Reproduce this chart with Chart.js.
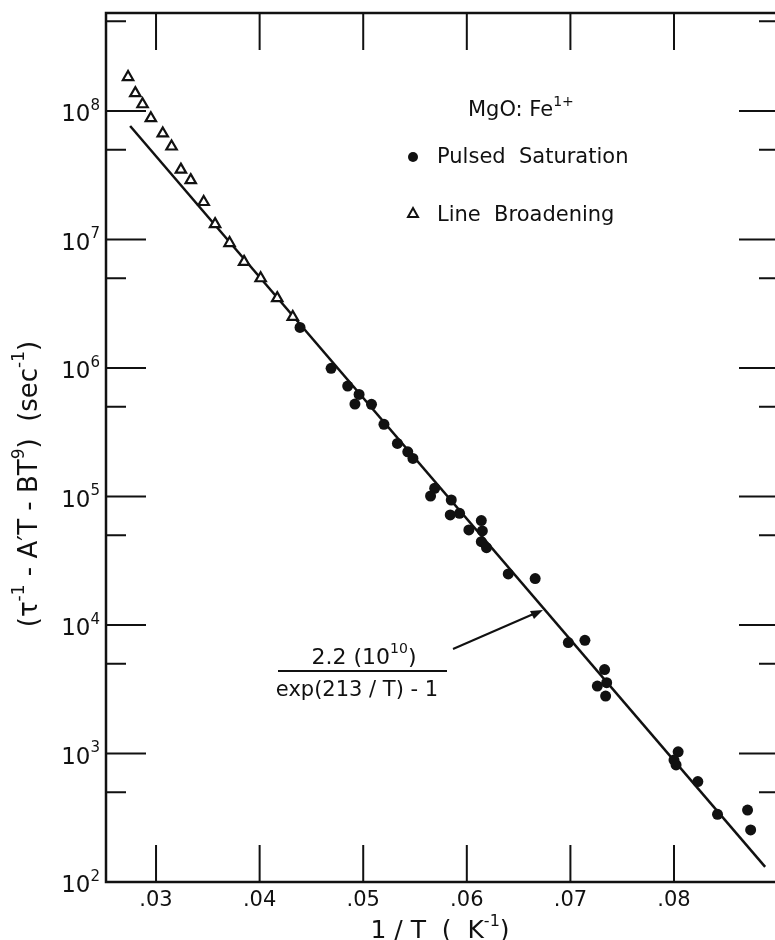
<!DOCTYPE html>
<html>
<head>
<meta charset="utf-8">
<script src="https://cdn.jsdelivr.net/npm/chart.js@4.4.1/dist/chart.umd.min.js"></script>
<style>
  body { margin: 0; background: #fff; }
  canvas { display: block; }
</style>
</head>
<body>
<canvas id="chart" width="775" height="940"></canvas>
<script>
// pulsed saturation points (1/T, rate)
const psX = [0.0439, 0.0469, 0.0485, 0.0496, 0.0492, 0.0508, 0.0520, 0.0533, 0.0543, 0.0548,
  0.0569, 0.0565, 0.0585, 0.0593, 0.0584, 0.0614, 0.0615, 0.0602, 0.0614, 0.0619,
  0.0640, 0.0666, 0.0698, 0.0714, 0.0733, 0.0735, 0.0726, 0.0734, 0.0804, 0.0800,
  0.0802, 0.0823, 0.0842, 0.0871, 0.0874];
const psY = [2.07e6, 9.95e5, 7.24e5, 6.24e5, 5.25e5, 5.22e5, 3.65e5, 2.59e5, 2.23e5, 1.98e5,
  1.16e5, 1.01e5, 9.4e4, 7.4e4, 7.2e4, 6.5e4, 5.4e4, 5.5e4, 4.45e4, 4.0e4,
  2.5e4, 2.3e4, 7.3e3, 7.6e3, 4.5e3, 3.56e3, 3.35e3, 2.8e3, 1030, 890,
  815, 605, 336, 363, 254];

// line broadening points
const lbX = [0.0273, 0.0280, 0.0287, 0.0295, 0.03065, 0.0315, 0.0324, 0.03335, 0.0346, 0.0357,
  0.0371, 0.0385, 0.0401, 0.0417, 0.0432];
const lbY = [1.84e8, 1.38e8, 1.13e8, 8.8e7, 6.7e7, 5.3e7, 3.5e7, 2.9e7, 1.96e7, 1.32e7,
  9.4e6, 6.7e6, 5.0e6, 3.5e6, 2.5e6];

// fitted curve end points
const fitX = [0.0275, 0.0888];
const fitY = [7.65e7, 131];

// ticks
const xTicks = [0.03, 0.04, 0.05, 0.06, 0.07, 0.08];
const xTickLabels = [".03", ".04", ".05", ".06", ".07", ".08"];
const yMajor = [1e2, 1e3, 1e4, 1e5, 1e6, 1e7, 1e8];
const yExponents = ["2", "3", "4", "5", "6", "7", "8"];
const yMinor = [5e2, 5e3, 5e4, 5e5, 5e6, 5e7, 5e8];

const FONT = '"DejaVu Sans", sans-serif';

const toPts = (xs, ys) => xs.map((x, i) => ({ x: x, y: ys[i] }));

// text with superscripts: parts = [[text, sup], ...]
const richWidth = (ctx, parts, size) => {
  let w = 0;
  parts.forEach(([t, sup]) => {
    ctx.font = (sup ? Math.round(size * 0.65) : size) + "px " + FONT;
    w += ctx.measureText(t).width;
  });
  return w;
};
const drawRich = (ctx, parts, x, y, size, align) => {
  const w = richWidth(ctx, parts, size);
  let cx = align === "center" ? x - w / 2 : align === "right" ? x - w : x;
  ctx.textAlign = "left";
  ctx.textBaseline = "alphabetic";
  parts.forEach(([t, sup]) => {
    ctx.font = (sup ? Math.round(size * 0.65) : size) + "px " + FONT;
    ctx.fillText(t, cx, sup ? y - size * 0.5 : y);
    cx += ctx.measureText(t).width;
  });
};

const decorations = {
  id: "decorations",
  afterDraw(chart) {
    const ctx = chart.ctx;
    const a = chart.chartArea;
    const xs = chart.scales.x;
    const ys = chart.scales.y;
    ctx.save();
    ctx.strokeStyle = "#111";
    ctx.fillStyle = "#111";

    // frame (right side is cut off by the picture)
    ctx.lineWidth = 2.5;
    ctx.beginPath();
    ctx.moveTo(a.right + 2, a.top);
    ctx.lineTo(a.left, a.top);
    ctx.lineTo(a.left, a.bottom);
    ctx.lineTo(a.right + 2, a.bottom);
    ctx.stroke();

    // inward ticks
    ctx.lineWidth = 2;
    ctx.beginPath();
    xTicks.forEach(v => {
      const px = xs.getPixelForValue(v);
      ctx.moveTo(px, a.bottom);
      ctx.lineTo(px, a.bottom - 37);
      ctx.moveTo(px, a.top);
      ctx.lineTo(px, a.top + 37);
    });
    yMajor.forEach(v => {
      const py = ys.getPixelForValue(v);
      ctx.moveTo(a.left, py);
      ctx.lineTo(a.left + 40, py);
      ctx.moveTo(a.right, py);
      ctx.lineTo(a.right - 36, py);
    });
    yMinor.forEach(v => {
      const py = ys.getPixelForValue(v);
      ctx.moveTo(a.left, py);
      ctx.lineTo(a.left + 20, py);
      ctx.moveTo(a.right, py);
      ctx.lineTo(a.right - 16, py);
    });
    ctx.stroke();

    // x tick labels
    ctx.font = "21px " + FONT;
    ctx.textAlign = "center";
    ctx.textBaseline = "middle";
    xTicks.forEach((v, i) => {
      ctx.fillText(xTickLabels[i], xs.getPixelForValue(v), a.bottom + 19);
    });

    // y tick labels
    yMajor.forEach((v, i) => {
      const py = ys.getPixelForValue(v);
      drawRich(ctx, [["10", false], [yExponents[i], true]], 100, py + 10, 23, "right");
    });

    // axis titles
    drawRich(ctx, [["1 / T  (  K", false], ["-1", true], [")", false]], 440, 938, 25, "center");
    ctx.save();
    ctx.translate(37, 484);
    ctx.rotate(-Math.PI / 2);
    drawRich(ctx, [["(τ", false], ["-1", true], [" - A′T - BT", false], ["9", true],
      [")  (sec", false], ["-1", true], [")", false]], 0, 0, 26, "center");
    ctx.restore();

    // legend text
    drawRich(ctx, [["MgO: Fe", false], ["1+", true]], 468, 116, 21, "left");
    ctx.font = "21px " + FONT;
    ctx.textAlign = "left";
    ctx.textBaseline = "alphabetic";
    ctx.fillText("Pulsed  Saturation", 437, 163);
    ctx.fillText("Line  Broadening", 437, 221);
    ctx.beginPath();
    ctx.arc(413, 157, 5, 0, Math.PI * 2);
    ctx.fill();
    ctx.lineWidth = 2;
    ctx.beginPath();
    ctx.moveTo(413, 208);
    ctx.lineTo(418, 217);
    ctx.lineTo(408, 217);
    ctx.closePath();
    ctx.stroke();

    // formula label with arrow
    drawRich(ctx, [["2.2 (10", false], ["10", true], [")", false]], 364, 664, 22, "center");
    ctx.lineWidth = 2;
    ctx.beginPath();
    ctx.moveTo(278, 671);
    ctx.lineTo(447, 671);
    ctx.stroke();
    ctx.font = "21px " + FONT;
    ctx.textAlign = "center";
    ctx.fillText("exp(213 / T) - 1", 357, 696);
    ctx.beginPath();
    ctx.moveTo(453, 649);
    ctx.lineTo(538, 612);
    ctx.stroke();
    ctx.beginPath();
    ctx.moveTo(543, 610);
    ctx.lineTo(530, 611);
    ctx.lineTo(534, 619);
    ctx.closePath();
    ctx.fill();

    ctx.restore();
  }
};

new Chart(document.getElementById("chart").getContext("2d"), {
  type: "scatter",
  data: {
    datasets: [
      {
        label: "Pulsed Saturation",
        data: toPts(psX, psY),
        pointStyle: "circle",
        pointRadius: 5.5,
        backgroundColor: "#111",
        borderColor: "#111",
        borderWidth: 0,
      },
      {
        label: "Line Broadening",
        data: toPts(lbX, lbY),
        pointStyle: "triangle",
        pointRadius: 6,
        backgroundColor: "#fff",
        borderColor: "#111",
        borderWidth: 2.2,
      },
      {
        label: "fit",
        type: "line",
        data: toPts(fitX, fitY),
        showLine: true,
        borderColor: "#111",
        borderWidth: 2.5,
        pointRadius: 0,
        fill: false,
      },
    ],
  },
  options: {
    responsive: false,
    animation: false,
    devicePixelRatio: 1,
    layout: {
      autoPadding: false,
      padding: { left: 106, top: 13, right: 0, bottom: 58 },
    },
    plugins: {
      legend: { display: false },
      tooltip: { enabled: false },
    },
    scales: {
      x: {
        type: "linear",
        min: 0.02517,
        max: 0.08975,
        display: false,
      },
      y: {
        type: "logarithmic",
        min: 100,
        max: 5.8e8,
        display: false,
      },
    },
  },
  plugins: [decorations],
});
</script>
</body>
</html>
